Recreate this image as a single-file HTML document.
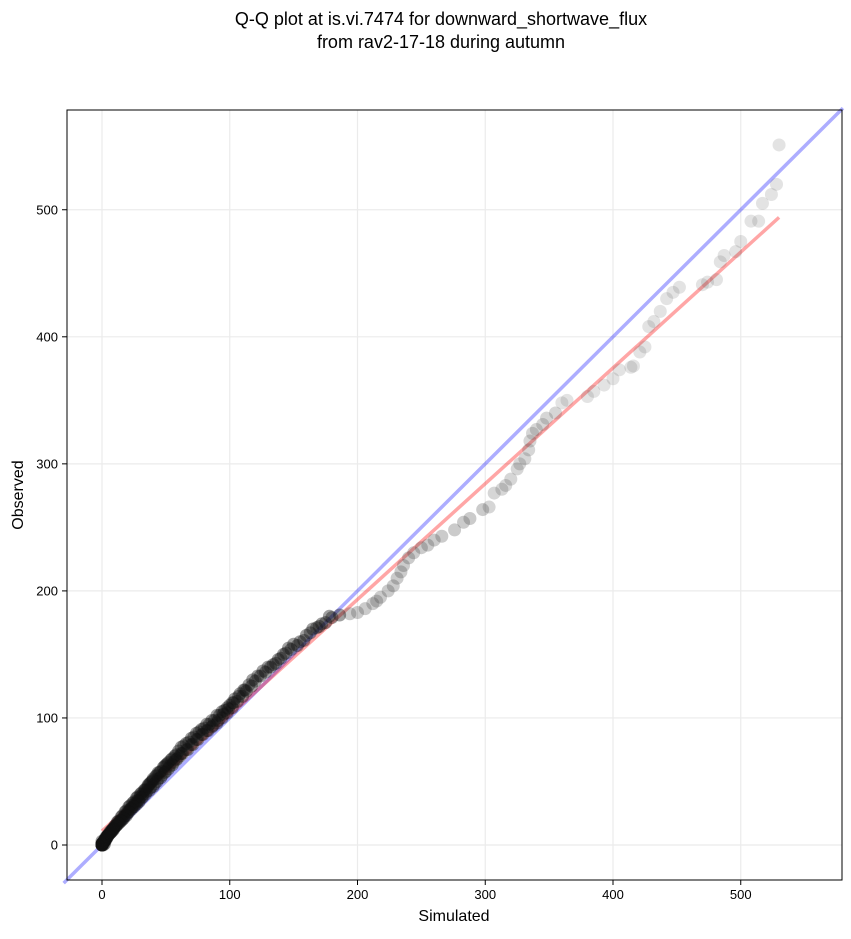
<!DOCTYPE html>
<html><head><meta charset="utf-8"><style>
body{margin:0;background:#fff;font-family:"Liberation Sans",sans-serif}
</style></head><body>
<svg id="chart" width="851" height="934" xmlns="http://www.w3.org/2000/svg">
<text x="441" y="25" text-anchor="middle" font-size="18" font-family="Liberation Sans, sans-serif">Q-Q plot at is.vi.7474 for downward_shortwave_flux</text>
<text x="441" y="48" text-anchor="middle" font-size="18" font-family="Liberation Sans, sans-serif">from rav2-17-18 during autumn</text>
<g id="grid"></g><g id="lines"></g><g id="pts"></g><g id="axes"></g>
<text x="454" y="921" text-anchor="middle" font-size="16" font-family="Liberation Sans, sans-serif">Simulated</text>
<text x="23" y="495" text-anchor="middle" font-size="16" font-family="Liberation Sans, sans-serif" transform="rotate(-90 23 495)">Observed</text>
</svg>
<script>
const xTicks=[0,100,200,300,400,500];
const yTicks=[0,100,200,300,400,500];
const sim=[530,528,524,517,514,508,500,496,487,484,481,474,470,452,447,442,437,432,428,425,421,416,414,405,400,393,385,380,364,360,355,348,345,340,337,335,334,331,327,325,320,316,313,307,303,298,288,283,276,266,260,255,250,244,240,236,234,231,228,224,218,215,212,206,200,194,186,180,175,170,165,160,155,150,146,142,138,134,130,126,122,118,115,111,108,104,100,96,92,88,84,80,76,72,68,64,60,57,54,51,48,45,42,39,36,33,30,27,24,21,18,15,12,10,8,6,4,3,2,1,0.5,0,0,
58,55,52,49,46,43,40,37,34,31,28,25,22,19,16,13,11,9,7,5,3,2,1,0,0,0,1,2,3,4,5,6,7,8,9,10,12,14,16,18,20,22,24,26,28,30,32,34,36,38,40,44,50,62,66,70,74,78,82,86,90,94,98,102,
178,172,168,163,158,153,148,144,140,136,132,128,124,120,117,113,110,106,102,98,94,90,86,82,78,74,70,66,62,59,56,53,50,47,44,41,38,35,32,29,26,23,20,17,14,11,9,7,5,4,3,2,1,0,0,1,2,0,
112,107,103,99,95,91,87,83,79,75,71,67,63,61,58,55,52,49,46,43,40,37,34,31,29,27,25,23,21,19,17,15,13,11,9,8,6,5,4,3,2,1,0,0,1,0];
const obs=[551,520,512,505,491,491,475,467,464,459,445,443,441,439,435,430,420,412,408,392,388,377,376,374,367,362,357,353,350,348,340,336,331,327,324,318,311,304,300,296,288,283,280,277,266,264,257,254,248,243,240,236,234,230,226,220,215,210,204,200,195,192,190,186,183,182,181,179,175,172,170,165,160,158,155,150,146,142,140,137,133,130,126,122,119,115,110,106,102,98,95,92,89,85,81,78,74,70,67,64,61,57,54,50,47,43,40,37,33,30,26,22,18,15,12,10,7,5,3,2,1,0,0.5,
71,68,65,62,58,55,51,48,44,41,38,34,31,27,23,19,16,13,10,8,5,4,2,1,3,0,2,4,6,7,8,9,11,12,13,14,16,18,20,23,26,28,30,33,35,38,40,43,46,49,52,57,63,77,80,84,88,91,95,98,102,105,108,112,
180,174,171,167,161,157,154,151,147,143,140,136,133,129,125,121,117,113,108,104,100,96,93,90,87,83,79,75,72,68,65,62,58,55,52,48,45,42,38,35,32,29,25,22,19,15,13,10,8,6,4,3,2,1,0,2,1,0,
122,117,112,107,103,98,94,90,87,83,79,75,72,70,67,63,60,57,53,50,46,43,40,37,34,32,30,28,26,23,21,19,17,15,12,11,9,8,6,5,3,2,1,0,0,0];
const X=v=>102+v*1.2775, Y=v=>845-v*1.2705;
const ns="http://www.w3.org/2000/svg";
function mk(t,a,p){const e=document.createElementNS(ns,t);for(const k in a)e.setAttribute(k,a[k]);p.appendChild(e);return e;}
const grid=document.getElementById('grid'),axes=document.getElementById('axes'),lines=document.getElementById('lines'),pts=document.getElementById('pts');
xTicks.forEach(t=>{
 const g=mk('line',{x1:X(t),x2:X(t),y1:110,y2:880,stroke:'#ebebeb','stroke-width':1.2},grid);
 
 
 mk('line',{x1:X(t),x2:X(t),y1:880,y2:885,stroke:'#000'},axes);
 const l=mk('text',{x:X(t),y:899,'text-anchor':'middle','font-size':13},axes);l.textContent=t;
 
 
});
yTicks.forEach(t=>{
 const g=mk('line',{x1:67,x2:842,y1:Y(t),y2:Y(t),stroke:'#ebebeb','stroke-width':1.2},grid);
 
 
 mk('line',{x1:62,x2:67,y1:Y(t),y2:Y(t),stroke:'#000'},axes);
 const l=mk('text',{x:58,y:Y(t)+4.5,'text-anchor':'end','font-size':13},axes);l.textContent=t;
 
 
});
const fr=mk('rect',{x:67,y:110,width:775,height:770,fill:'none',stroke:'#000','stroke-width':1},axes);


const ref=mk('line',{x1:X(-30),y1:Y(-30),x2:X(580),y2:Y(580),stroke:'#0000ff','stroke-opacity':0.32,'stroke-width':3.5},lines);


const fitX=[0,530], fitY=[11,494];
const fit=mk('line',{x1:X(fitX[0]),y1:Y(fitY[0]),x2:X(fitX[1]),y2:Y(fitY[1]),stroke:'#ff0000','stroke-opacity':0.35,'stroke-width':3.5},lines);


sim.forEach((s,i)=>{
 const op=s<190?0.4:(s<300?0.28:(s<360?0.22:0.15));
 const c=mk('circle',{cx:X(s),cy:Y(obs[i]),r:6.5,fill:s<190?'#111':'#444','fill-opacity':op},pts);
 
 
});
</script>
</body></html>
